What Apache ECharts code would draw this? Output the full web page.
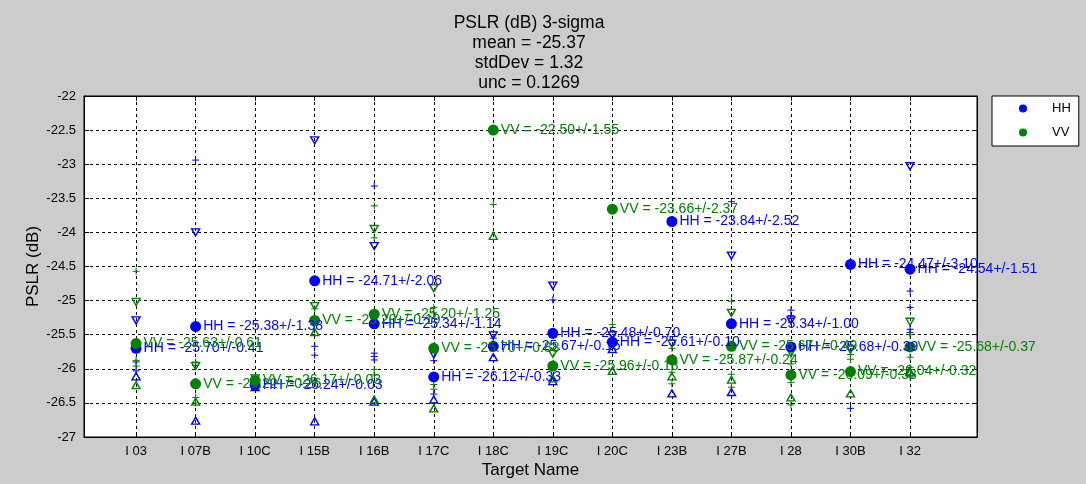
<!DOCTYPE html>
<html><head><meta charset="utf-8">
<script src="https://cdn.jsdelivr.net/npm/echarts@6/dist/echarts.min.js"></script>
<style>html,body{margin:0;padding:0;background:#cccccc;} #c{width:1086px;height:484px;}</style>
</head><body><div id="c"></div>
<script>
// ---- data ----
const categories = ['I 03','I 07B','I 10C','I 15B','I 16B','I 17C','I 18C','I 19C','I 20C','I 23B','I 27B','I 28','I 30B','I 32'];
const titleLines = ['PSLR (dB) 3-sigma', 'mean = -25.37', 'stdDev = 1.32', 'unc = 0.1269'];
const yTickMin = -27, yTickMax = -22, yTickStep = 0.5;

const hhMean = [-25.70,-25.38,-26.24,-24.71,-25.34,-26.12,-25.67,-25.48,-25.61,-23.84,-25.34,-25.68,-24.47,-24.54];
const hhErr  = [0.41,1.38,0.03,2.06,1.14,0.33,0.15,0.70,0.10,2.52,1.00,0.39,3.10,1.51];
const hhHi   = [-25.29,-24.00,-26.21,-22.65,-24.20,-25.79,-25.51,-24.78,-25.51,null,-24.34,-25.29,null,-23.03];
const hhLo   = [-26.11,-26.76,-26.27,-26.77,-26.48,-26.45,-25.83,-26.18,-25.71,-26.36,-26.34,-26.07,null,-26.05];
const hhPlus = [[-25.90,-26.03],[-22.94,-25.95],[],[-25.67,-25.80],[-23.32,-25.77,-25.82,-25.87],[-25.88,-26.37],[-25.55],[-24.99],[],[],[-23.55],[-25.14,-25.22],[-26.58],[-24.86,-25.10,-25.42,-25.47]];

const vvMean = [-25.63,-26.22,-26.17,-25.29,-25.20,-25.70,-22.50,-25.96,-23.66,-25.87,-25.67,-26.09,-26.04,-25.68];
const vvErr  = [0.61,0.26,0.03,0.19,1.25,0.88,1.55,0.18,2.37,0.24,0.49,0.33,0.32,0.37];
const vvHi   = [-25.02,-25.96,-26.14,-25.08,-23.95,-24.82,null,-25.78,null,-25.63,-25.18,-25.76,-25.72,-25.31];
const vvLo   = [-26.24,-26.48,-26.20,-25.46,-26.45,-26.58,-24.05,-26.14,-26.03,-26.11,-26.16,-26.42,-26.36,-26.05];
const vvPlus = [[-24.57,-25.88,-25.96],[-25.90,-26.42,-26.50],[],[-25.12],[-23.61,-24.08,-26.01,-26.09],[-25.10,-25.18,-26.23,-26.30],[-23.59],[],[-25.35],[-25.70,-26.05,-26.22],[-25.01,-26.08,-26.27],[-25.80,-25.93,-26.20,-26.53],[-25.79,-25.86],[-25.50,-25.83,-25.98,-26.12]];

// ---- chart ----
const FONT = 'Liberation Sans, Arial, sans-serif';
const BLUE = '#0000ff', GREEN = '#008000';
const xVals = categories.map((_, i) => i + 1);

function pts(arr) {
  const out = [];
  arr.forEach((v, i) => { if (v != null) out.push([i + 1, v]); });
  return out;
}
function plusPts(arr) {
  const out = [];
  arr.forEach((list, i) => list.forEach(v => out.push([i + 1, v])));
  return out;
}
function triSeries(name, arr, color, down) {
  return { name, type: 'scatter', data: pts(arr), symbol: 'triangle', symbolSize: [8, 7],
    symbolRotate: down ? 180 : 0, z: 3, silent: true,
    itemStyle: { color: 'rgba(255,255,255,0)', borderColor: color, borderWidth: 1.4, opacity: 1 } };
}
function plusSeries(name, arr, color) {
  return { name, type: 'scatter', data: plusPts(arr), symbol: 'path://M5,0L5,10M0,5L10,5', symbolSize: 7,
    z: 3, silent: true, itemStyle: { color: 'rgba(255,255,255,0)', borderColor: color, borderWidth: 1, opacity: 1 } };
}
function meanSeries(name, mean, err, color) {
  return { name, type: 'scatter', data: mean.map((v, i) => [i + 1, v, err[i]]), symbol: 'circle', symbolSize: 11,
    z: 5, itemStyle: { color, opacity: 1 },
    label: { show: true, position: 'right', distance: 2, color, fontSize: 14, fontFamily: FONT,
      formatter: p => name + ' = ' + p.value[1].toFixed(2) + '+/-' + p.value[2].toFixed(2) } };
}

const chart = echarts.init(document.getElementById('c'), null, { renderer: 'canvas' });
chart.setOption({
  backgroundColor: '#cccccc',
  animation: false,
  title: { text: titleLines.join('\n'), left: 524, top: 8, textAlign: 'center',
    textStyle: { fontSize: 17.5, fontWeight: 'normal', color: '#000', fontFamily: FONT, lineHeight: 20 } },
  legend: { data: [{ name: 'HH', icon: 'circle' }, { name: 'VV', icon: 'circle' }], orient: 'vertical',
    left: 992, top: 96, itemWidth: 8, itemHeight: 8, itemGap: 11, padding: [6, 8, 7, 27],
    backgroundColor: '#fff', borderColor: '#000', borderWidth: 1, borderRadius: 0,
    textStyle: { fontSize: 13, color: '#000', fontFamily: FONT, padding: [0, 0, 0, 20] } },
  grid: { left: 84, right: 109, top: 96, bottom: 46, show: true, backgroundColor: '#fff', borderColor: '#000', borderWidth: 1 },
  xAxis: [
    { type: 'value', min: 0.125, max: 15.125, position: 'bottom',
      axisLine: { show: true, onZero: false, lineStyle: { color: '#000' } },
      axisTick: { show: true, inside: true, length: 5, customValues: xVals, lineStyle: { color: '#000' } },
      axisLabel: { show: true, customValues: xVals, formatter: v => categories[Math.round(v) - 1] || '',
        color: '#000', fontSize: 13, fontFamily: FONT, margin: 8 },
      splitLine: { show: true, lineStyle: { color: '#000', type: [3, 3], width: 1 } },
      name: 'Target Name', nameLocation: 'middle', nameGap: 25, nameMoveOverlap: false,
      nameTextStyle: { fontSize: 17, color: '#000', fontFamily: FONT } },
    { type: 'value', min: 0.125, max: 15.125, position: 'top',
      axisLine: { show: true, onZero: false, lineStyle: { color: '#000' } },
      axisTick: { show: true, inside: true, length: 5, customValues: xVals, lineStyle: { color: '#000' } },
      axisLabel: { show: false }, splitLine: { show: false } }
  ],
  yAxis: [
    { type: 'value', min: yTickMin, max: yTickMax, interval: yTickStep,
      axisLine: { show: true, onZero: false, lineStyle: { color: '#000' } },
      axisTick: { show: true, inside: true, length: 5, lineStyle: { color: '#000' } },
      axisLabel: { color: '#000', fontSize: 13, fontFamily: FONT, margin: 8 },
      splitLine: { show: true, lineStyle: { color: '#000', type: [3, 3], width: 1 } },
      name: 'PSLR (dB)', nameLocation: 'middle', nameGap: 42, nameMoveOverlap: false,
      nameTextStyle: { fontSize: 17, color: '#000', fontFamily: FONT } },
    { type: 'value', min: yTickMin, max: yTickMax, interval: yTickStep, position: 'right',
      axisLine: { show: true, onZero: false, lineStyle: { color: '#000' } },
      axisTick: { show: true, inside: true, length: 5, lineStyle: { color: '#000' } },
      axisLabel: { show: false }, splitLine: { show: false } }
  ],
  series: [
    plusSeries('HH points', hhPlus, BLUE),
    plusSeries('VV points', vvPlus, GREEN),
    triSeries('HH upper', hhHi, BLUE, true),
    triSeries('HH lower', hhLo, BLUE, false),
    triSeries('VV upper', vvHi, GREEN, true),
    triSeries('VV lower', vvLo, GREEN, false),
    meanSeries('HH', hhMean, hhErr, BLUE),
    meanSeries('VV', vvMean, vvErr, GREEN)
  ]
});
</script></body></html>
